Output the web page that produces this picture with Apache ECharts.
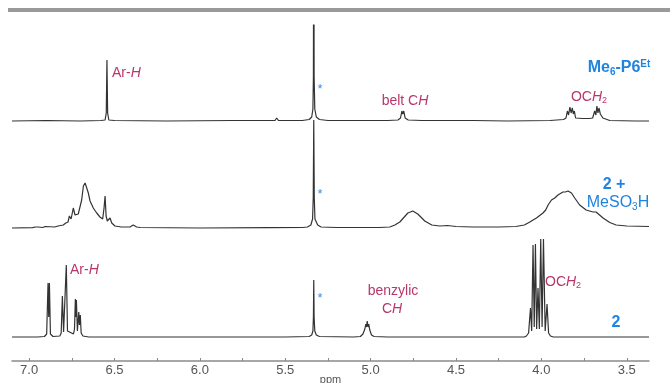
<!DOCTYPE html>
<html>
<head>
<meta charset="utf-8">
<script src="https://cdn.jsdelivr.net/npm/echarts@6/dist/echarts.min.js"></script>
<style>html,body{margin:0;padding:0;background:#fff}#c{width:670px;height:383px}</style>
</head>
<body>
<div id="c"></div>
<script>
// ppm positions and intensities (relative to each spectrum's own baseline)
var specTop = [[7.10,0],[6.90,0.5],[6.70,0],[6.58,0.5],[6.555,1],[6.548,8],[6.544,61],[6.540,8],[6.533,1],[6.50,0.5],[6.20,0],[5.80,0.5],[5.56,0.5],[5.55,3],[5.54,0.5],[5.40,0.5],[5.36,1.5],[5.345,4],[5.338,12],[5.335,45],[5.333,320],[5.331,45],[5.327,12],[5.318,4],[5.30,1.5],[5.25,0.5],[5.00,0.5],[4.90,0.5],[4.84,1],[4.825,3],[4.817,10],[4.812,7],[4.806,10],[4.798,3],[4.78,1],[4.70,0.5],[4.40,0.5],[4.20,0],[3.95,0.5],[3.87,1.5],[3.856,3],[3.848,10],[3.841,6],[3.833,14],[3.826,8],[3.819,13],[3.813,7],[3.807,10],[3.800,3],[3.79,2.5],[3.76,2.5],[3.72,2.5],[3.70,3],[3.692,4],[3.688,10],[3.681,6],[3.675,15],[3.669,8],[3.663,13],[3.655,7],[3.647,9],[3.640,3],[3.63,1],[3.60,0.5],[3.45,0],[3.37,0]];
var specMid = [[7.10,0],[6.98,0.3],[6.962,1],[6.955,3],[6.948,1],[6.92,0.5],[6.906,1.5],[6.90,0.5],[6.85,1],[6.83,2],[6.80,3],[6.785,5],[6.779,7],[6.772,6],[6.764,12],[6.754,9],[6.748,11],[6.741,20],[6.731,13],[6.712,14],[6.702,16],[6.692,28],[6.682,42],[6.672,45],[6.662,44],[6.653,35],[6.643,27],[6.624,20],[6.604,15],[6.585,11],[6.569,9],[6.561,20],[6.555,32],[6.549,12],[6.542,7],[6.535,8],[6.526,10],[6.516,5],[6.497,2],[6.46,1],[6.409,1],[6.39,3],[6.37,1],[6.35,0.5],[6.00,0],[5.60,0.3],[5.40,0.5],[5.37,1],[5.35,3],[5.34,9],[5.336,30],[5.333,108],[5.330,30],[5.326,9],[5.31,3],[5.29,1],[5.20,0.5],[4.95,0.5],[4.888,1],[4.858,3],[4.829,6],[4.782,15],[4.753,17],[4.724,14],[4.683,7],[4.642,3],[4.595,2],[4.55,2.5],[4.50,1.5],[4.40,1],[4.25,1],[4.15,1.5],[4.10,3],[4.068,6],[4.029,10],[3.991,15],[3.975,18],[3.968,20],[3.961,23],[3.955,25],[3.950,24],[3.941,28],[3.935,27],[3.922,30],[3.912,31],[3.903,33],[3.874,36],[3.860,36],[3.844,37],[3.835,37],[3.824,35],[3.805,30],[3.776,23],[3.738,18],[3.698,16],[3.680,16],[3.669,15],[3.639,10],[3.600,5.5],[3.562,3],[3.50,2],[3.37,1.5]];
var specBot = [[7.10,0],[6.95,0],[6.91,0.5],[6.897,3],[6.889,54],[6.885,20],[6.881,54],[6.875,3],[6.86,0.5],[6.82,1],[6.812,4],[6.805,41],[6.798,5],[6.79,6],[6.782,72],[6.775,6],[6.74,3],[6.734,8],[6.729,38],[6.726,20],[6.723,37],[6.717,6],[6.713,8],[6.709,25],[6.705,12],[6.700,22],[6.695,4],[6.685,1],[6.65,0],[5.50,0],[5.36,0.5],[5.345,2],[5.338,6],[5.335,20],[5.333,57],[5.331,20],[5.327,6],[5.318,2],[5.30,0.5],[5.10,0],[5.06,0.5],[5.045,3],[5.034,8],[5.028,13],[5.024,10],[5.020,16],[5.015,10],[5.011,13],[5.005,7],[4.995,2],[4.98,0.5],[4.90,0],[4.10,0],[4.088,1],[4.075,4],[4.064,29],[4.057,6],[4.049,92],[4.042,10],[4.035,93],[4.028,8],[4.020,49],[4.012,8],[4.004,98],[3.996,10],[3.988,98],[3.978,6],[3.967,33],[3.958,4],[3.947,1],[3.93,0],[3.37,0]];
var tickValues = [3.5,3.75,4.0,4.25,4.5,4.75,5.0,5.25,5.5,5.75,6.0,6.25,6.5,6.75,7.0];
var labelValues = [3.5,4.0,4.5,5.0,5.5,6.0,6.5,7.0];

var offsets = {top: 240, mid: 133, bot: 24};
function shift(arr, off){ return arr.map(function(p){ return [p[0], p[1] + off]; }); }

var chart = echarts.init(document.getElementById('c'), null, {renderer: 'canvas'});
var lineStyle = {color: '#333', width: 1.2};
var red = '#b8366a', blue = '#1f84e0';
var FF = 'Liberation Sans';
var richRed = {
  n: {fontSize: 14, fill: red, lineHeight: 16, fontFamily: FF},
  i: {fontSize: 14, fill: red, fontStyle: 'italic', lineHeight: 16, fontFamily: FF},
  sub: {fontSize: 9, fill: red, lineHeight: 9, verticalAlign: 'bottom', fontFamily: FF}
};
var richBlue = {
  b: {fontSize: 16, fontWeight: 'bold', fill: blue, lineHeight: 18, fontFamily: FF},
  bs: {fontSize: 10, fontWeight: 'bold', fill: blue, lineHeight: 10, verticalAlign: 'bottom', fontFamily: FF},
  bsup: {fontSize: 10, fontWeight: 'bold', fill: blue, lineHeight: 10, verticalAlign: 'top', fontFamily: FF},
  n: {fontSize: 16, fill: blue, lineHeight: 18, fontFamily: FF},
  s: {fontSize: 10, fill: blue, lineHeight: 10, verticalAlign: 'bottom', fontFamily: FF}
};
var star = {s: {fontSize: 13, fill: '#3a8ee6', fontFamily: FF}};
function txt(x, y, text, rich, align){
  return {type: 'text', x: x, y: y, z: 10,
    style: {text: text, rich: rich, align: align || 'center', verticalAlign: 'middle', fontFamily: FF}};
}

chart.setOption({
  animation: false,
  backgroundColor: '#fff',
  grid: {left: 12, right: 21, top: 25, bottom: 22, outerBoundsMode: 'none', containLabel: false},
  xAxis: {
    type: 'value', inverse: true, min: 3.37, max: 7.10,
    axisLine: {lineStyle: {color: '#8a8a8a', width: 1.5}},
    axisTick: {show: true, inside: true, length: 3, customValues: tickValues, lineStyle: {color: '#8a8a8a'}},
    axisLabel: {customValues: labelValues, formatter: function(v){ return v.toFixed(1); }, color: '#555', fontSize: 13, margin: 3, fontFamily: FF},
    splitLine: {show: false},
    name: 'ppm', nameLocation: 'middle', nameGap: 13, nameMoveOverlap: false,
    nameTextStyle: {color: '#555', fontSize: 11, fontFamily: FF}
  },
  yAxis: {type: 'value', min: 0, max: 336, show: false},
  series: [
    {type: 'line', data: shift(specTop, offsets.top), symbol: 'none', lineStyle: lineStyle, clip: true},
    {type: 'line', data: shift(specMid, offsets.mid), symbol: 'none', lineStyle: lineStyle, clip: true},
    {type: 'line', data: shift(specBot, offsets.bot), symbol: 'none', lineStyle: lineStyle, clip: true}
  ],
  graphic: [
    {type: 'rect', shape: {x: 8, y: 8, width: 662, height: 4}, style: {fill: '#9a9a9a'}},
    txt(112, 73, '{n|Ar-}{i|H}', richRed, 'left'),
    txt(405, 101, '{n|belt C}{i|H}', richRed),
    txt(589, 97, '{n|OC}{i|H}{sub|2}', richRed),
    txt(619, 68, '{b|Me}{bs|6}{b|-P6}{bsup|Et}', richBlue),
    txt(320, 89, '{s|*}', star),
    txt(320, 194, '{s|*}', star),
    txt(320, 298, '{s|*}', star),
    txt(614, 185, '{b|2 +}', richBlue),
    txt(618, 203, '{n|MeSO}{s|3}{n|H}', richBlue),
    txt(70, 270, '{n|Ar-}{i|H}', richRed, 'left'),
    txt(393, 291, '{n|benzylic}', richRed),
    txt(392, 309, '{n|C}{i|H}', richRed),
    txt(545, 282, '{n|OC}{i|H}{sub|2}', richRed, 'left'),
    txt(616, 323, '{b|2}', richBlue)
  ]
});
</script>
</body>
</html>
